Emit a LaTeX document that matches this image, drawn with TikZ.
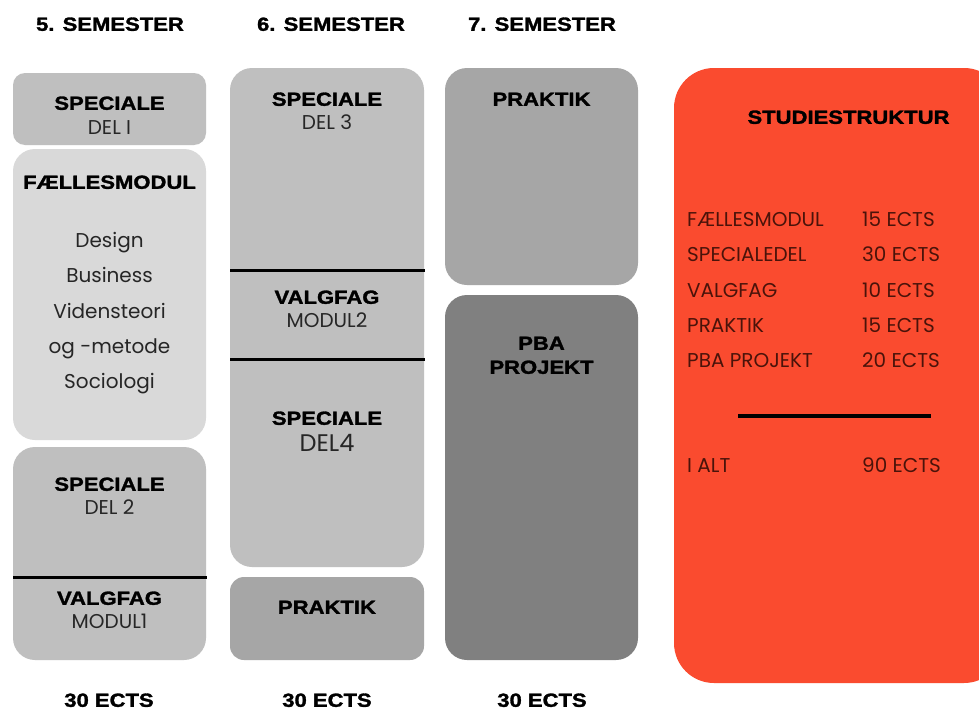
\documentclass[tikz,border=0pt]{standalone}
\usepackage{fontspec}
\newfontfamily\hdfont{Liberation Sans}[FakeStretch=1.16, BoldFeatures={FakeBold=1.6}]
\newfontfamily\ltfont{Poppins}
\definecolor{gmid}{HTML}{BFBFBF}
\definecolor{glight}{HTML}{D9D9D9}
\definecolor{gprak}{HTML}{A6A6A6}
\definecolor{gdark}{HTML}{808080}
\definecolor{redbox}{HTML}{FA4B2F}
\definecolor{redtxt}{HTML}{4A130A}
\definecolor{txtgray}{HTML}{262626}
\begin{document}
\begin{tikzpicture}[x=1pt,y=-1pt,
  box/.style={draw=none, rounded corners=22pt, inner sep=0pt, outer sep=0pt},
  hd/.style={font=\hdfont\bfseries\fontsize{19}{22}\selectfont, text=black, inner sep=0pt, text height=13.6pt, text depth=0pt},
  lt/.style={font=\ltfont\fontsize{20}{24}\selectfont, text=txtgray, inner sep=0pt, text height=14pt, text depth=0pt},
  rt/.style={font=\ltfont\fontsize{20}{24}\selectfont, text=redtxt, anchor=west, inner sep=0pt, text height=14pt, text depth=0pt},
  divider/.style={line width=3pt, black}]
\useasboundingbox (0,0) rectangle (979,709);
\clip (0,0) rectangle (979,709);
\fill[white] (0,0) rectangle (979,709);

% boxes
\node[box, fill=gmid, rounded corners=12pt, minimum width=193pt, minimum height=72pt] (s1) at (109.5,109) {};
\node[box, fill=glight, minimum width=193pt, minimum height=291pt] (fm) at (109.5,294.5) {};
\node[box, fill=gmid, minimum width=193pt, minimum height=213pt] (s2) at (109.5,553.5) {};
\node[box, fill=gmid, minimum width=194pt, minimum height=499pt] (c2) at (327,317.5) {};
\node[box, fill=gprak, rounded corners=14pt, minimum width=194pt, minimum height=83pt] (p2) at (327,618.5) {};
\node[box, fill=gprak, minimum width=193pt, minimum height=217pt] (p3) at (541.5,176.5) {};
\node[box, fill=gdark, minimum width=193pt, minimum height=365pt] (pba) at (541.5,477.5) {};
\node[box, fill=redbox, rounded corners=40pt, minimum width=330pt, minimum height=615pt] (red) at (839,375.5) {};

% dividers
\coordinate (d1a) at (13,577); \coordinate (d1b) at (207,577);
\coordinate (d2a) at (230,270); \coordinate (d2b) at (425,270);
\coordinate (d3a) at (230,359); \coordinate (d3b) at (425,359);
\coordinate (d4a) at (738,416); \coordinate (d4b) at (931,416);
\draw[divider] (d1a) -- (d1b);
\draw[divider] (d2a) -- (d2b);
\draw[divider] (d3a) -- (d3b);
\draw[divider, line width=3.5pt] (d4a) -- (d4b);

% headers
\node[hd] (h5) at (110,24) {5. SEMESTER};
\node[hd] (h6) at (331,24) {6. SEMESTER};
\node[hd] (h7) at (542,24) {7. SEMESTER};
\node[hd] (e5) at (109,700) {30 ECTS};
\node[hd] (e6) at (327,700) {30 ECTS};
\node[hd] (e7) at (542,700) {30 ECTS};

% column 1
\node[hd] (t1) at (109.5,103) {SPECIALE};
\node[lt] (t2) at (109.5,127) {DEL I};
\node[hd] (t3) at (109.5,182) {FÆLLESMODUL};
\node[lt] (t4) at (109.5,240) {Design};
\node[lt] (t5) at (109.5,275) {Business};
\node[lt] (t6) at (109.5,311) {Vidensteori};
\node[lt] (t7) at (109.5,346) {og -metode};
\node[lt] (t8) at (109.5,381) {Sociologi};
\node[hd] (t9) at (109.5,484) {SPECIALE};
\node[lt] (t10) at (109.5,507) {DEL 2};
\node[hd] (t11) at (109.5,598) {VALGFAG};
\node[lt] (t12) at (109.5,621) {MODUL1};

% column 2
\node[hd] (u1) at (327,99) {SPECIALE};
\node[lt] (u2) at (327,122) {DEL 3};
\node[hd] (u3) at (327,297) {VALGFAG};
\node[lt] (u4) at (327,320) {MODUL2};
\node[hd] (u5) at (327,418) {SPECIALE};
\node[lt, font=\ltfont\fontsize{24}{28}\selectfont, text height=16.5pt] (u6) at (327,443) {DEL4};
\node[hd] (u7) at (327,607) {PRAKTIK};

% column 3
\node[hd] (v1) at (541.5,99) {PRAKTIK};
\node[hd] (v2) at (541.5,343) {PBA};
\node[hd] (v3) at (541.5,367) {PROJEKT};

% red box
\node[hd] (w0) at (848.5,117) {STUDIESTRUKTUR};
\node[rt] (wa1) at (687,219) {FÆLLESMODUL};
\node[rt] (wb1) at (862,219) {15 ECTS};
\node[rt] (wa2) at (687,254) {SPECIALEDEL};
\node[rt] (wb2) at (862,254) {30 ECTS};
\node[rt] (wa3) at (687,290) {VALGFAG};
\node[rt] (wb3) at (862,290) {10 ECTS};
\node[rt] (wa4) at (687,325) {PRAKTIK};
\node[rt] (wb4) at (862,325) {15 ECTS};
\node[rt] (wa5) at (687,360) {PBA PROJEKT};
\node[rt] (wb5) at (862,360) {20 ECTS};
\node[rt] (wa6) at (687,465) {I ALT};
\node[rt] (wb6) at (862,465) {90 ECTS};
\end{tikzpicture}
\end{document}
